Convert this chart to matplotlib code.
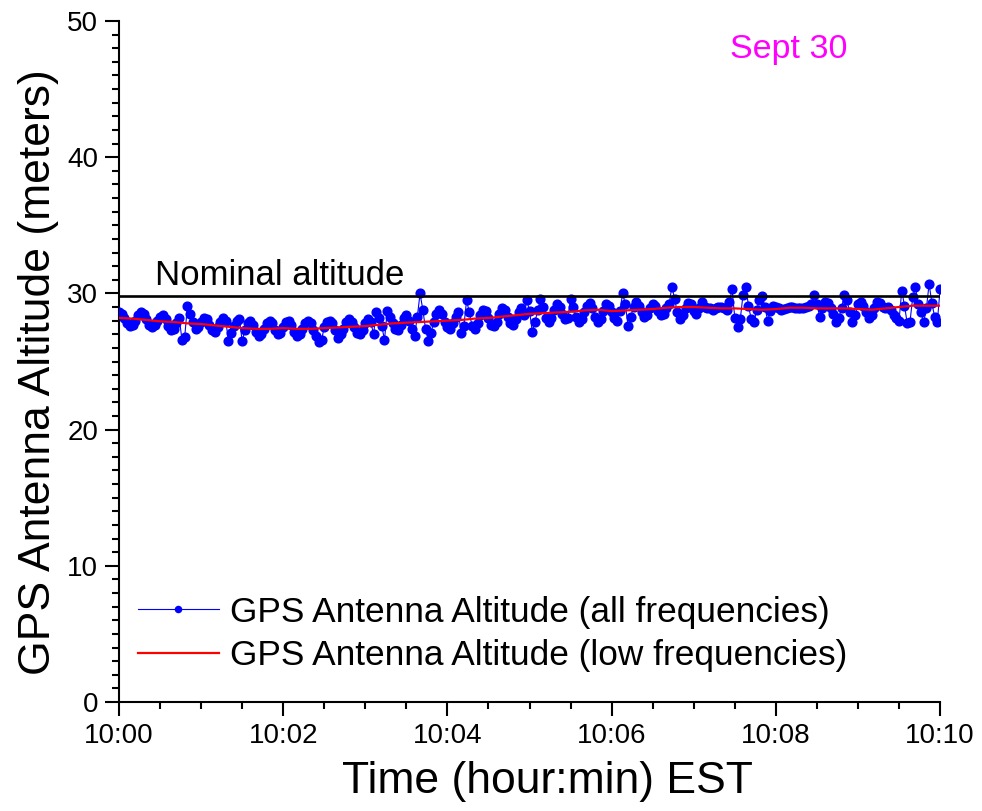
import numpy as np
import matplotlib
matplotlib.use("Agg")
import matplotlib.pyplot as plt
from matplotlib.ticker import MultipleLocator

plt.rcParams["font.family"] = ["Liberation Sans", "DejaVu Sans"]

# GPS altitude, one sample every 2 s from 10:00:00 to 10:10:00 (metres)
blue_alt = [
    28.6, 28.5, 28.2, 27.8, 27.6, 27.7, 28.0, 28.4, 28.6, 28.5, 28.1, 27.7, 27.5, 27.7, 28.0,
    28.3, 28.4, 28.1, 27.6, 27.3, 27.4, 27.8, 28.2, 26.6, 26.8, 29.1, 28.5, 27.9, 27.4, 27.5,
    27.9, 28.2, 28.1, 27.7, 27.3, 27.2, 27.5, 27.9, 28.2, 28.0, 26.5, 27.1, 27.6, 28.0, 28.1,
    26.5, 27.3, 27.8, 28.0, 27.7, 27.2, 26.9, 27.0, 27.4, 27.8, 28.0, 27.8, 27.3, 27.0, 27.1,
    27.5, 27.9, 28.0, 27.7, 27.2, 26.9, 27.0, 27.4, 27.8, 28.0, 27.8, 27.3, 26.9, 26.4, 26.6,
    27.5, 27.9, 28.0, 27.8, 27.3, 26.7, 27.0, 27.4, 27.9, 28.1, 27.9, 27.5, 27.1, 27.0, 27.3,
    27.8, 28.1, 27.9, 27.0, 28.6, 28.2, 27.6, 26.6, 28.7, 28.3, 27.8, 27.4, 27.3, 27.7, 28.2,
    28.4, 28.0, 27.4, 26.9, 28.3, 30.0, 28.8, 27.4, 26.5, 27.1, 27.9, 28.5, 28.8, 28.5, 27.9,
    27.5, 27.4, 27.8, 28.3, 28.6, 27.1, 27.6, 29.5, 28.6, 27.6, 27.4, 27.8, 28.4, 28.8, 28.7,
    28.2, 27.7, 27.6, 27.9, 28.5, 28.9, 28.8, 28.3, 27.8, 27.7, 28.1, 28.6, 28.9, 28.4, 29.5,
    28.7, 27.2, 27.9, 28.8, 29.6, 29.0, 28.2, 27.9, 28.2, 28.8, 29.2, 29.0, 28.5, 28.1, 28.2,
    29.6, 29.0, 28.3, 27.9, 28.1, 28.6, 29.1, 29.3, 28.9, 28.3, 27.9, 28.1, 28.7, 29.2, 29.1,
    28.6, 28.2, 28.0, 28.7, 30.0, 29.2, 27.6, 28.3, 29.0, 29.4, 29.1, 28.6, 28.3, 28.4, 28.9,
    29.2, 29.1, 28.7, 28.4, 28.5, 28.9, 29.2, 30.5, 29.6, 28.6, 28.1, 28.4, 28.9, 29.3, 29.2,
    28.7, 28.5, 28.9, 29.4, 29.0, 28.9, 28.9, 28.8, 28.9, 29.0, 29.0, 28.9, 28.8, 29.4, 30.3,
    28.2, 27.5, 28.1, 29.9, 30.5, 29.1, 28.1, 27.9, 28.8, 29.5, 29.8, 29.0, 28.0, 28.7, 29.1,
    29.0, 28.9, 28.8, 28.85, 28.9, 29.0, 29.0, 28.95, 28.9, 28.9, 28.95, 29.0, 29.1, 29.2, 29.9,
    29.2, 28.3, 28.9, 29.4, 29.3, 28.9, 28.5, 27.9, 28.2, 28.9, 29.9, 29.5, 28.6, 27.9, 28.4,
    29.2, 29.4, 29.1, 28.6, 28.2, 28.4, 28.9, 29.4, 29.3, 29.0, 28.9, 29.0, 28.8, 28.4, 28.2,
    28.0, 30.2, 29.1, 27.8, 27.9, 29.7, 30.5, 29.2, 28.6, 27.9, 28.9, 30.7, 29.3, 28.3, 27.9,
    30.3,
]

# low-pass filtered altitude, one value every 10 s
red_alt = [
    28.2, 28.15, 28.05, 27.95, 27.9, 27.8, 27.75, 27.65, 27.55, 27.45,
    27.4, 27.4, 27.45, 27.4, 27.4, 27.45, 27.5, 27.55, 27.6, 27.7,
    27.8, 27.85, 27.9, 27.95, 28.0, 28.05, 28.15, 28.2, 28.3, 28.4,
    28.5, 28.55, 28.6, 28.65, 28.75, 28.8, 28.7, 28.75, 28.8, 28.85,
    28.95, 29.0, 29.0, 28.95, 28.9, 28.9, 28.85, 28.8, 28.85, 28.95,
    28.95, 28.9, 28.9, 28.9, 28.85, 28.8, 28.9, 29.0, 29.1, 29.1,
    29.1,
]

nominal_alt = 29.8
x_ticks = [0, 2, 4, 6, 8, 10]
x_tick_labels = ["10:00", "10:02", "10:04", "10:06", "10:08", "10:10"]

blue_t = np.arange(len(blue_alt)) * 2 / 60.0
red_t = np.arange(len(red_alt)) * 10 / 60.0

fig = plt.figure(figsize=(9.82, 8.11), dpi=100)
ax = fig.add_axes([0.1212, 0.1344, 0.8361, 0.8397])

ax.plot(blue_t, blue_alt, color="#0000ff", lw=0.8, marker="o", ms=6.3,
        mec="#0000ff", mfc="#0000ff",
        label="GPS Antenna Altitude (all frequencies)", zorder=3)
ax.plot(red_t, red_alt, color="#ff0000", lw=1.6,
        label="GPS Antenna Altitude (low frequencies)", zorder=4)
ax.axhline(nominal_alt, color="black", lw=1.9, zorder=5)

ax.text(0.44, 30.6, "Nominal altitude", fontsize=25, va="baseline", ha="left")
ax.text(7.44, 47.3, "Sept 30", fontsize=24.5, color="#ff00ff",
        va="baseline", ha="left")

ax.set_xlim(0, 10)
ax.set_ylim(0, 50)
ax.set_xticks(x_ticks)
ax.set_xticklabels(x_tick_labels)
ax.xaxis.set_minor_locator(MultipleLocator(0.5))
ax.yaxis.set_major_locator(MultipleLocator(10))
ax.yaxis.set_minor_locator(MultipleLocator(1))

for side in ("top", "right"):
    ax.spines[side].set_visible(False)
for side in ("left", "bottom"):
    ax.spines[side].set_linewidth(1.5)

ax.tick_params(which="major", direction="out", length=10, width=1.5,
               labelsize=20, pad=5)
ax.tick_params(which="minor", direction="out", length=5, width=1.5)

ax.set_xlabel("Time (hour:min) EST", fontsize=32, labelpad=9)
ax.set_ylabel("GPS Antenna Altitude (meters)", fontsize=32, labelpad=6)
ax.xaxis.label.set_x(0.522)
ax.yaxis.label.set_y(0.485)

leg = ax.legend(loc="center left", bbox_to_anchor=(0.023, 0.100),
                frameon=False, fontsize=25.4, handlelength=2.3,
                handletextpad=0.3, labelspacing=0.3, borderpad=0,
                borderaxespad=0, markerscale=0.7)

fig.savefig("out.png", dpi=100)
